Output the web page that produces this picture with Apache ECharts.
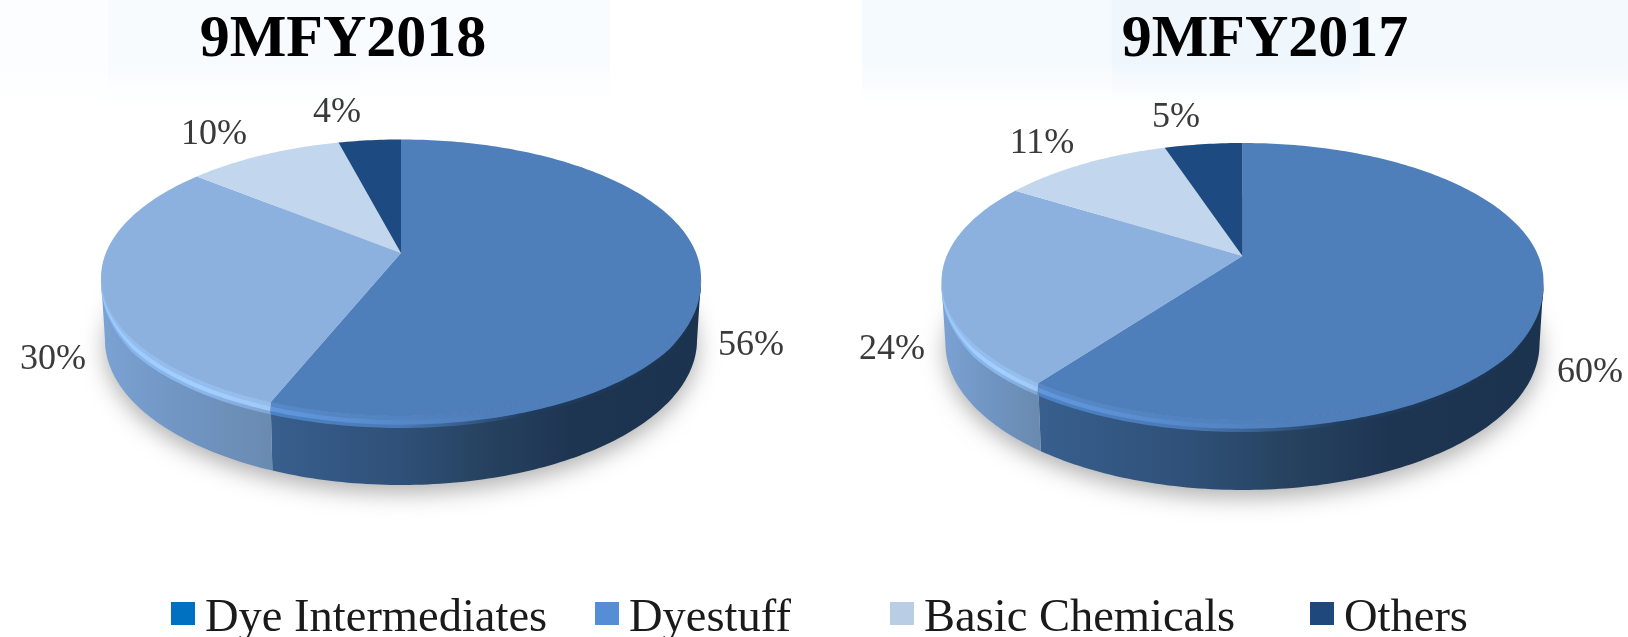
<!DOCTYPE html>
<html>
<head>
<meta charset="utf-8">
<script src="https://cdn.jsdelivr.net/npm/echarts@6/dist/echarts.min.js"></script>
<style>html,body{margin:0;padding:0;background:#fff}#c{width:1628px;height:637px}</style>
</head>
<body>
<div id="c"></div>
<script>
// ---- data ----
const categories = ['Dye Intermediates', 'Dyestuff', 'Basic Chemicals', 'Others'];
const pieTitles = ['9MFY2018', '9MFY2017'];
const values2018 = [56, 30, 10, 4];
const values2017 = [60, 24, 11, 5];

// ---- styles and layout ----
const legendColors = ['#0070c0', '#558ed5', '#b9cde5', '#1f497d'];
const topColors = ['#4f7fbb', '#8cb1df', '#c2d6ed', '#1d4a80'];
const sideStops = [
  [[0, '#385f8e'], [0.3, '#2f5078'], [0.5, '#26425f'], [0.7, '#1e3552'], [1, '#1c3350']],
  [[0, '#7ba2d3'], [0.5, '#7095c3'], [1, '#6a8bb0']],
  [[0, '#9ab0cc'], [1, '#9ab0cc']],
  [[0, '#17375e'], [1, '#17375e']]
];
// rim bands, outermost first: [share of the rim width, colour stops]
const rimBands = [
  [[1, [[0, '#4e82c4'], [0.3, '#4a79b6'], [0.48, '#335885'], [0.6, '#203c5e'], [1, '#1c3350']]],
   [0.72, [[0, '#6199de'], [0.3, '#5688c9'], [0.5, '#4f7fbb'], [1, '#4f7fbb']]],
   [0.35, [[0, '#5789ca'], [0.3, '#5183c0'], [0.5, '#4f7fbb'], [1, '#4f7fbb']]]],
  [[1, [[0, '#86b4ea'], [0.6, '#8ab6ea'], [1, '#80a6d3']]],
   [0.72, [[0, '#9ccbff'], [0.6, '#a2cfff'], [1, '#a0c8f4']]],
   [0.35, [[0, '#93bdef'], [1, '#95bdec']]]],
  [],
  []
];
const pies = [
  { cx: 401, apexY: 253, halfWidth: 300, top: 139.5, bottom: 416, rim: 12, rimSide: 1.5,
    baseMid: 340, baseRy: 145, baseRx: 296, titleX: 343,
    labels: [[751, 346], [53, 360], [214, 135], [337, 113]] },
  { cx: 1242.5, apexY: 256, halfWidth: 301, top: 143, bottom: 420, rim: 12, rimSide: 1.5,
    baseMid: 344, baseRy: 146, baseRx: 297, titleX: 1265,
    labels: [[1590, 373], [892, 350], [1042, 144], [1176, 118]] }
];
const legendX = [171, 595, 890, 1310];
const serif = '"Liberation Serif", "Times New Roman", serif';
const backdrop = [
  [0, 108, '#fbfdff'], [108, 252, '#f7fbfe'], [360, 250, '#f9fcfe'],
  [862, 250, '#f5fafe'], [1112, 248, '#eff7fd'], [1360, 268, '#f4f9fd']
];

function geometry(pie) {
  const up = pie.apexY - pie.top, down = pie.bottom - pie.apexY;
  const p = (up - down) / (up + down);
  const B = down * (1 + p);
  const A = pie.halfWidth * Math.sqrt(1 - p * p);
  const midY = pie.apexY + (down - up) / 2;
  const ry = (up + down) / 2;
  return {
    midY, ry,
    at(frac) {
      const t = frac * 2 * Math.PI, u = Math.sin(t), v = -Math.cos(t), w = 1 + p * v;
      return [pie.cx + A * u / w, pie.apexY + B * v / w];
    }
  };
}
function arcPoints(g, a, b) {
  const n = Math.max(2, Math.ceil((b - a) * 360));
  const out = [];
  for (let i = 0; i <= n; i++) out.push(g.at(a + (b - a) * i / n));
  return out;
}
function lowerRun(g, a, b) {
  return arcPoints(g, a, b).filter(pt => pt[1] >= g.midY);
}
function hGrad(x0, x1, stops) {
  return { type: 'linear', global: true, x: x0, y: 0, x2: x1, y2: 0,
    colorStops: stops.map(s => ({ offset: s[0], color: s[1] })) };
}
function rimPoint(pie, g, pt, share) {
  const depthShare = (pt[1] - g.midY) / g.ry;
  const taperX = Math.min(1, depthShare * 5);
  const taperY = Math.min(1, depthShare * 2.2);
  return [pie.cx + (pt[0] - pie.cx) * (1 + taperX * share * pie.rimSide / pie.halfWidth),
          pt[1] + share * pie.rim * taperY];
}
function basePoint(pie, g, pt) {
  return [pie.cx + (pt[0] - pie.cx) * pie.baseRx / pie.halfWidth,
          pie.baseMid + (pt[1] - g.midY) * pie.baseRy / g.ry];
}
const valuesByPie = [values2018, values2017];

function renderSlice(catIndex) {
  return function (params, api) {
    const pieIndex = params.dataIndex;
    const pie = pies[pieIndex], g = geometry(pie);
    const vals = valuesByPie[pieIndex];
    const total = vals.reduce((s, v) => s + v, 0);
    const before = vals.slice(0, catIndex).reduce((s, v) => s + v, 0);
    const value = api.value(0);
    const a = before / total, b = (before + value) / total;
    const children = [];
    const run = lowerRun(g, a, b);
    if (run.length > 1) {
      const x0 = Math.min(run[0][0], run[run.length - 1][0]);
      const x1 = Math.max(run[0][0], run[run.length - 1][0]);
      const base = run.map(pt => basePoint(pie, g, pt)).reverse();
      children.push({ type: 'polygon', shape: { points: run.concat(base) },
        style: { fill: hGrad(x0, x1, sideStops[catIndex]) } });
      rimBands[catIndex].forEach(band => {
        const edge = run.map(pt => rimPoint(pie, g, pt, band[0])).reverse();
        children.push({ type: 'polygon', shape: { points: run.concat(edge) },
          style: { fill: hGrad(x0, x1, band[1]) } });
      });
    }
    const arc = arcPoints(g, a, b);
    children.push({ type: 'polygon', shape: { points: [[pie.cx, pie.apexY]].concat(arc) },
      style: { fill: topColors[catIndex] } });
    const lab = pie.labels[catIndex];
    children.push({ type: 'text', x: lab[0], y: lab[1],
      style: { text: value + '%', font: '36px ' + serif, fill: '#3a3a3a',
        textAlign: 'center', textVerticalAlign: 'middle' } });
    return { type: 'group', children };
  };
}

function renderShadow(params) {
  const pie = pies[params.dataIndex], g = geometry(pie);
  const pts = arcPoints(g, 0, 1).map(pt => basePoint(pie, g, pt));
  return { type: 'polygon', shape: { points: pts },
    style: { fill: '#cfcfcf', shadowBlur: 22, shadowColor: 'rgba(0,0,0,0.3)', shadowOffsetY: 8 } };
}

const series = [{
  type: 'custom', name: 'shadow', coordinateSystem: 'none', silent: true, z: 1,
  renderItem: renderShadow, data: [[0], [1]]
}].concat(categories.map((name, i) => ({
  type: 'custom', name, coordinateSystem: 'none', silent: true, z: 2,
  itemStyle: { color: legendColors[i] },
  renderItem: renderSlice(i),
  data: [[values2018[i]], [values2017[i]]]
})));

const chart = echarts.init(document.getElementById('c'));
chart.setOption({
  animation: false,
  backgroundColor: '#ffffff',
  graphic: backdrop.map(b => ({
    type: 'rect', z: 0, silent: true, shape: { x: b[0], y: 0, width: b[1], height: 105 },
    style: { fill: { type: 'linear', x: 0, y: 0, x2: 0, y2: 1,
      colorStops: [{ offset: 0, color: b[2] }, { offset: 0.6, color: b[2] }, { offset: 1, color: '#ffffff' }] } }
  })),
  title: pieTitles.map((text, i) => ({
    text, left: pies[i].titleX, top: 10, textAlign: 'center', padding: 0,
    textStyle: { fontFamily: serif, fontWeight: 'bold', fontSize: 60, color: '#000' }
  })),
  legend: categories.map((name, i) => ({
    data: [{ name, itemStyle: { color: legendColors[i] } }],
    left: legendX[i], top: 595, padding: 0, itemWidth: 24, itemHeight: 23,
    icon: 'rect', selectedMode: false,
    formatter: '{t|{name}}',
    textStyle: { padding: [10, 0, 0, 5],
      rich: { t: { fontFamily: serif, fontSize: 46.5, color: '#1a1a1a' } } }
  })),
  series
});
</script>
</body>
</html>
